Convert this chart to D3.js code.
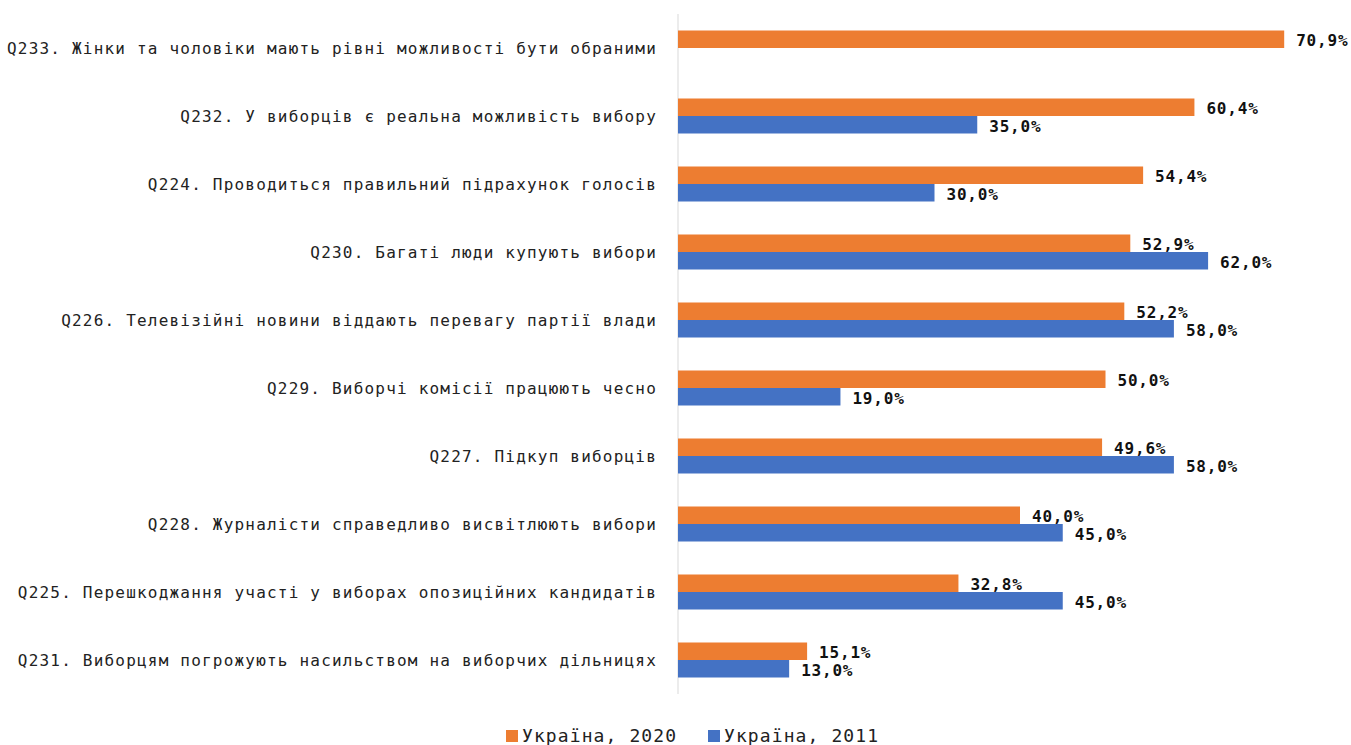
<!DOCTYPE html>
<html><head><meta charset="utf-8">
<script src="https://cdn.jsdelivr.net/npm/d3@7"></script>
<style>body{margin:0;background:#fff}</style>
</head><body>
<svg id="chart" width="1351" height="745"></svg>
<script>
const categories = [
  "Q233. Жінки та чоловіки мають рівні можливості бути обраними",
  "Q232. У виборців є реальна можливість вибору",
  "Q224. Проводиться правильний підрахунок голосів",
  "Q230. Багаті люди купують вибори",
  "Q226. Телевізійні новини віддають перевагу партії влади",
  "Q229. Виборчі комісії працюють чесно",
  "Q227. Підкуп виборців",
  "Q228. Журналісти справедливо висвітлюють вибори",
  "Q225. Перешкоджання участі у виборах опозиційних кандидатів",
  "Q231. Виборцям погрожують насильством на виборчих дільницях"
];
const ukraine2020 = [70.9, 60.4, 54.4, 52.9, 52.2, 50.0, 49.6, 40.0, 32.8, 15.1];
const ukraine2011 = [null, 35.0, 30.0, 62.0, 58.0, 19.0, 58.0, 45.0, 45.0, 13.0];
const seriesNames = ["Україна, 2020", "Україна, 2011"];
const colors = ["#ED7D31", "#4472C4"];

const svg = d3.select("#chart");
const x = d3.scaleLinear().domain([0, 80]).range([678, 1362]);
const y = d3.scaleBand().domain(categories).range([14, 694]).paddingInner(0).paddingOuter(0);
const barH = 17.5;
const fmt = v => v.toFixed(1).replace(".", ",") + "%";
const mono = "'DejaVu Sans Mono', 'Liberation Mono', monospace";

// axis line
svg.append("line").attr("x1", x(0)).attr("x2", x(0)).attr("y1", 14).attr("y2", 694)
  .attr("stroke", "#d9d9d9").attr("stroke-width", 1);

// category labels
svg.append("g").selectAll("text").data(categories).join("text")
  .attr("x", 657).attr("y", d => y(d) + y.bandwidth() / 2)
  .attr("text-anchor", "end").attr("dominant-baseline", "central")
  .attr("font-family", mono).attr("font-size", 16).attr("letter-spacing", 1.2)
  .attr("fill", "#222").text(d => d);

const series = [ukraine2020, ukraine2011];
series.forEach((vals, si) => {
  const data = categories.map((c, i) => ({c, v: vals[i]})).filter(d => d.v != null);
  const yOff = si === 0 ? -barH : 0;
  svg.append("g").selectAll("rect").data(data).join("rect")
    .attr("x", x(0)).attr("y", d => y(d.c) + y.bandwidth() / 2 + yOff)
    .attr("width", d => x(d.v) - x(0)).attr("height", barH)
    .attr("fill", colors[si]);
  svg.append("g").selectAll("text").data(data).join("text")
    .attr("x", d => x(d.v) + 12).attr("y", d => y(d.c) + y.bandwidth() / 2 + yOff + barH / 2 + 1.5)
    .attr("dominant-baseline", "central")
    .attr("font-family", mono).attr("font-size", 16).attr("font-weight", "bold").attr("letter-spacing", 0.8)
    .attr("fill", "#111").text(d => fmt(d.v));
});

// legend
const legendX = [506, 708];
seriesNames.forEach((n, i) => {
  svg.append("rect").attr("x", legendX[i]).attr("y", 730).attr("width", 12).attr("height", 12).attr("fill", colors[i]);
  svg.append("text").attr("x", legendX[i] + 16).attr("y", 735.5).attr("dominant-baseline", "central")
    .attr("font-family", mono).attr("font-size", 18).attr("letter-spacing", 1.1)
    .attr("fill", "#222").text(n);
});
</script>
</body></html>
